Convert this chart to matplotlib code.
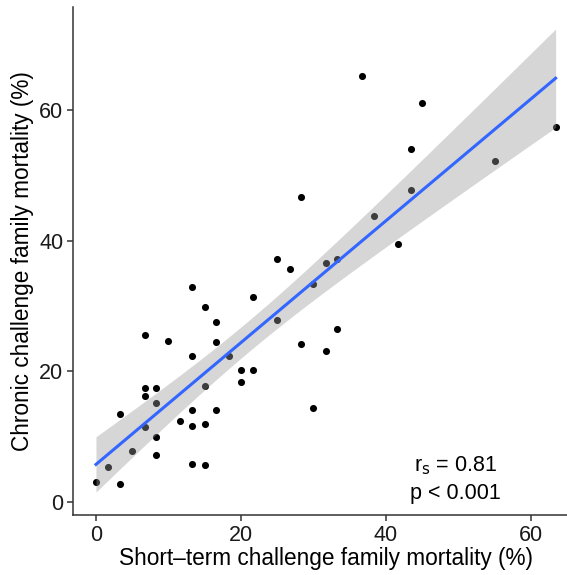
import numpy as np
import matplotlib
matplotlib.use("Agg")
import matplotlib.pyplot as plt

plt.rcParams['font.family'] = ['Liberation Sans', 'DejaVu Sans']

# family mortality (%)
short_term = [0.0, 1.6, 3.3, 3.3, 4.9, 6.7, 6.7, 6.7, 6.7, 8.3, 8.3, 8.3, 8.3,
              10.0, 11.6, 13.3, 13.3, 13.3, 13.3, 13.2, 15.0, 15.0, 15.0, 15.0,
              16.6, 16.6, 16.6, 18.4, 20.0, 20.0, 21.6, 21.7, 25.0, 25.0, 26.7,
              28.3, 28.3, 30.0, 30.0, 31.7, 31.7, 33.3, 33.3, 36.7, 38.3, 41.7,
              43.4, 43.4, 45.0, 55.0, 63.4]
chronic = [3.1, 5.4, 2.8, 13.5, 7.8, 25.6, 17.4, 16.3, 11.5, 17.5, 15.2, 10.0, 7.3,
           24.7, 12.4, 22.3, 14.1, 11.7, 5.9, 32.9, 29.8, 17.7, 12.0, 5.75,
           27.5, 24.5, 14.1, 22.4, 20.2, 18.4, 20.2, 31.4, 37.2, 27.9, 35.7,
           46.6, 24.2, 33.3, 14.4, 36.6, 23.1, 37.2, 26.5, 65.2, 43.8, 39.5,
           54.0, 47.8, 61.1, 52.1, 57.3]
rs_text = "r$_\\mathrm{s}$ = 0.81"
p_text = "p < 0.001"

x = np.array(short_term)
y = np.array(chronic)

# linear fit + 95% confidence band (like geom_smooth(method = "lm"))
n = len(x)
b1, b0 = np.polyfit(x, y, 1)
resid = y - (b0 + b1 * x)
s = np.sqrt(np.sum(resid**2) / (n - 2))
t = 2.01
xs = np.linspace(x.min(), x.max(), 100)
ys = b0 + b1 * xs
se = s * np.sqrt(1 / n + (xs - x.mean())**2 / np.sum((x - x.mean())**2))

fig = plt.figure(figsize=(5.67, 5.75), dpi=100)
ax = fig.add_axes([73/567, 60/575, 494/567, 508/575])

ax.scatter(x, y, s=26, color='black', linewidths=0, zorder=2)
ax.fill_between(xs, ys - t*se, ys + t*se, color='#999999', alpha=0.4,
                linewidth=0, zorder=3)
ax.plot(xs, ys, color='#3366FF', linewidth=2.2, zorder=4)

ax.set_xlim(-3.17, 64.97)
ax.set_ylim(-1.94, 75.7)
ax.set_xticks([0, 20, 40, 60])
ax.set_yticks([0, 20, 40, 60])

for side in ['top', 'right']:
    ax.spines[side].set_visible(False)
for side in ['left', 'bottom']:
    ax.spines[side].set_color('#333333')
    ax.spines[side].set_linewidth(1.1)
ax.tick_params(length=4, width=1.1, color='#333333', labelsize=15.5,
               labelcolor='#1a1a1a', pad=3)

ax.set_xlabel("Short\u2013term challenge family mortality (%)", fontsize=16.3, labelpad=1)
ax.xaxis.label.set_x(0.513)  # panel in the original runs a bit past the right edge
ax.set_ylabel("Chronic challenge family mortality (%)", fontsize=16.3, labelpad=4)

ax.text(49.6, 5.6, rs_text, fontsize=15.5, ha='center', va='center')
ax.text(49.6, 1.4, p_text, fontsize=15.5, ha='center', va='center')

fig.savefig("out.png", dpi=100)
